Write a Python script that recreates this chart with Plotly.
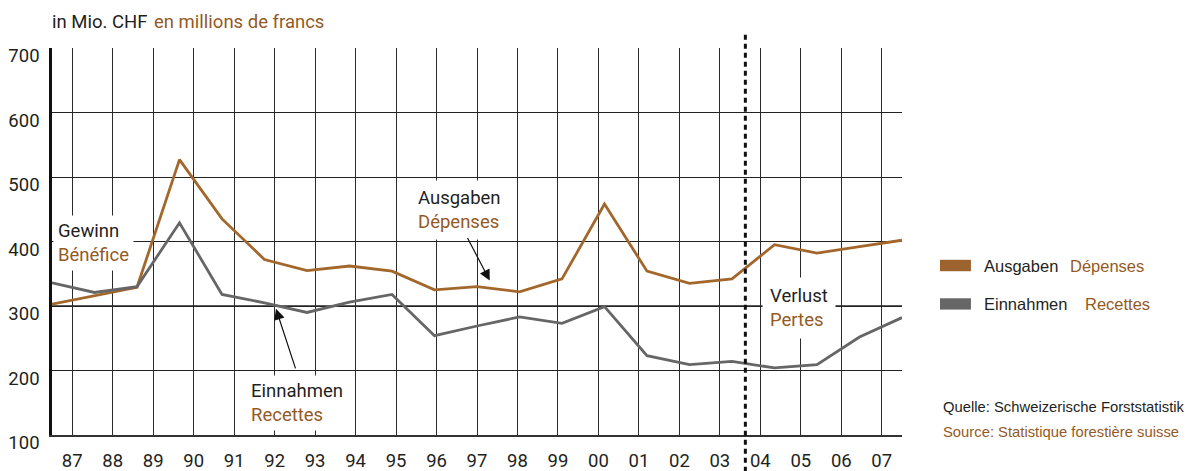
import plotly.graph_objects as go

# ---------------- data ----------------
years = ["87", "88", "89", "90", "91", "92", "93", "94", "95", "96", "97",
         "98", "99", "00", "01", "02", "03", "04", "05", "06", "07"]
ausgaben = [303, 316, 329, 527, 435, 372, 355, 362, 354, 325, 330,
            322, 342, 458, 354, 335, 342, 395, 382, 392, 402]
einnahmen = [336, 321, 330, 429, 318, 305, 290, 306, 318, 254, 269,
             283, 273, 299, 223, 209, 214, 204, 209, 252, 282]
y_ticks = [100, 200, 300, 400, 500, 600, 700]

# ---------------- style ----------------
NARROW = "Roboto, Liberation Sans Narrow, sans-serif"
REG = "Liberation Sans, Arial, sans-serif"
FS = 18.5
DARK = "#231f20"
BROWN_TXT = "#945a1f"
BROWN_LINE = "#a3672c"
GRAY_LINE = "#666666"
BROWN_SW = "#9c632e"

fig = go.Figure()

# invisible helper trace for the label / grid axis
fig.add_trace(go.Scatter(x=years, y=[None] * len(years), xaxis="x2", yaxis="y",
                         mode="lines", showlegend=False, hoverinfo="skip"))

fig.add_trace(go.Scatter(x=years, y=ausgaben, mode="lines", name="Ausgaben Dépenses",
                         line=dict(color=BROWN_LINE, width=2.8), xaxis="x", yaxis="y"))
fig.add_trace(go.Scatter(x=years, y=einnahmen, mode="lines", name="Einnahmen Recettes",
                         line=dict(color=GRAY_LINE, width=2.8), xaxis="x", yaxis="y"))

# page body has an 8px margin -> figure is drawn 8px in from the window corner
fig.update_layout(
    width=1187, height=463,
    margin=dict(l=44, r=293, t=40, b=36, autoexpand=False),
    plot_bgcolor="white", paper_bgcolor="white",
    showlegend=False,
    xaxis=dict(type="category", categoryorder="array", categoryarray=years,
               range=[0, len(years) - 1], showticklabels=False, showgrid=False,
               zeroline=False, showline=True, linecolor="#333", linewidth=2, ticks="",
               automargin=False),
    xaxis2=dict(type="category", categoryorder="array", categoryarray=years,
                range=[-0.5, len(years) - 0.5], overlaying="x", anchor="y", side="bottom",
                showgrid=True, gridcolor="#2a2a2a", gridwidth=1.3, showline=False,
                zeroline=False, ticks="", automargin=False,
                tickfont=dict(family=NARROW, size=FS, color=DARK),
                ticklabelstandoff=12),
    yaxis=dict(range=[100, 700], tickmode="array", tickvals=y_ticks,
               showgrid=True, gridcolor="#222", gridwidth=1.2, zeroline=False,
               showline=True, linecolor="#111", linewidth=2.5, ticks="", automargin=False,
               tickfont=dict(family=NARROW, size=FS, color=DARK),
               ticklabelstandoff=6, ticklabelshift=8),
)

# emphasised 300 line
try:
    fig.add_shape(type="line", xref="paper", yref="y", x0=0, x1=1, y0=300, y1=300,
                  line=dict(color="#5c5c5c", width=2.2), layer="between")
except ValueError:
    fig.add_shape(type="line", xref="paper", yref="y", x0=0, x1=1, y0=300, y1=300,
                  line=dict(color="#5c5c5c", width=2.2), layer="below")

# dashed divider between 03 and 04
DIVIDER = 16.63
fig.add_shape(type="line", xref="x2", yref="paper", x0=DIVIDER, x1=DIVIDER,
              y0=-0.095, y1=1.04, line=dict(color="#111", width=3, dash="5px,4px"),
              layer="above")


def two_line(de, fr):
    return f"{de}<br><span style='color:{BROWN_TXT}'>{fr}</span>"


labels = [
    ("Gewinn", "Bénéfice", 0.0015, 0.4974, "left", 4),
    ("Ausgaben", "Dépenses", 0.479, 0.5802, "center", 6),
    ("Einnahmen", "Recettes", 0.2878, 0.0823, "center", 4),
    ("Verlust", "Pertes", 0.8789, 0.3293, "center", 7),
]
for de, fr, x, y, xa, pad in labels:
    fig.add_annotation(text=two_line(de, fr), xref="paper", yref="paper", x=x, y=y,
                       xanchor=xa, yanchor="middle", align="left", showarrow=False,
                       bgcolor="white", borderpad=pad,
                       font=dict(family=NARROW, size=FS, color=DARK))

# arrows
for x, y, ax, ay in [(5.27, 295.6, 20, 61), (10.3, 339.5, -23, -44)]:
    fig.add_annotation(text="", xref="x", yref="y", x=x, y=y, ax=ax, ay=ay,
                       showarrow=True, arrowhead=2, arrowsize=1.8, arrowwidth=1.2,
                       arrowcolor="#111")

# title
fig.add_annotation(text="in Mio. CHF", xref="paper", yref="paper", x=-0.002, y=1.0665,
                   xanchor="left", yanchor="middle", showarrow=False,
                   font=dict(family=NARROW, size=FS, color=DARK))
fig.add_annotation(text="en millions de francs", xref="paper", yref="paper", x=0.1176,
                   y=1.0665, xanchor="left", yanchor="middle", showarrow=False,
                   font=dict(family=NARROW, size=FS, color=BROWN_TXT))

# legend (custom)
legend_items = [
    ("Ausgaben", "Dépenses", BROWN_SW, 0.4527, 0.4232, 0.4379, 1.1956),
    ("Einnahmen", "Recettes", GRAY_LINE, 0.3533, 0.3241, 0.3396, 1.2132),
]
for de, fr, col, y0, y1, yt, xfr in legend_items:
    fig.add_shape(type="rect", xref="paper", yref="paper", x0=1.0447, x1=1.0811,
                  y0=y1, y1=y0, fillcolor=col, line=dict(width=0))
    fig.add_annotation(text=de, xref="paper", yref="paper", x=1.0937, y=yt,
                       xanchor="left", yanchor="middle", showarrow=False,
                       font=dict(family=REG, size=16.5, color=DARK))
    fig.add_annotation(text=fr, xref="paper", yref="paper", x=xfr, y=yt,
                       xanchor="left", yanchor="middle", showarrow=False,
                       font=dict(family=REG, size=16.5, color=BROWN_TXT))

# source
fig.add_annotation(text="Quelle: Schweizerische Forststatistik", xref="paper", yref="paper",
                   x=1.0455, y=0.0732, xanchor="left", yanchor="middle", showarrow=False,
                   font=dict(family=REG, size=14.8, color=DARK))
fig.add_annotation(text="Source: Statistique forestière suisse", xref="paper", yref="paper",
                   x=1.0455, y=0.0085, xanchor="left", yanchor="middle", showarrow=False,
                   font=dict(family=REG, size=14.8, color=BROWN_TXT))

fig.write_html("out.html")
